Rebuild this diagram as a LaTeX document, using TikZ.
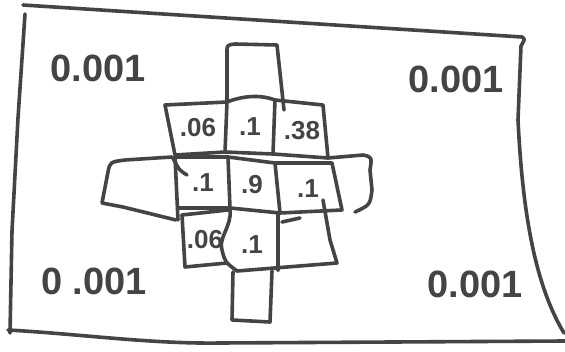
\documentclass[tikz,border=0pt]{standalone}
\usepackage{fontspec}
\setmainfont{Liberation Sans}
\definecolor{ink}{RGB}{68,68,68}
\tikzset{
  sketch/.style={draw=ink, line width=3.6pt, line cap=round, line join=round},
  big/.style={text=ink, font=\bfseries\fontsize{38}{38}\selectfont, inner sep=0pt},
  cell/.style={text=ink, font=\bfseries\fontsize{26}{26}\selectfont, inner sep=0pt}
}
\begin{document}
\begin{tikzpicture}[x=1pt, y=-1pt]
\useasboundingbox (0,0) rectangle (565,351);

\draw[sketch] (23,5) -- (522,37) .. controls (525,39) .. (521,46) -- (518,120) .. controls (522,200) and (532,280) .. (564,333);
\draw[sketch] (25,14) -- (18,118) -- (12,231) -- (10,333);
\draw[sketch] (8,330) .. controls (80,334) and (150,344) .. (220,343) -- (565,341);

\node[big] (tl) at (98,68) {0.001};
\node[big] (tr) at (456,79) {0.001};
\node[big] (bl) at (94,281) {0 .001};
\node[big] (br) at (475,284) {0.001};

\draw[sketch] (227,102) -- (227,52) .. controls (227,45) .. (235,44) -- (277,45) -- (284,110);
\draw[sketch] (165,105) -- (227,102) .. controls (245,95) and (262,95) .. (275,100) -- (323,105) -- (328,158);
\draw[sketch] (165,105) -- (175,155) -- (225,152);
\draw[sketch] (227,102) -- (225,152) -- (273,154) -- (328,158);
\draw[sketch] (275,100) -- (273,154);

\draw[sketch] (175,157) -- (228,157) -- (275,163) -- (332,163) -- (342,210) -- (280,213) -- (230,208) -- (178,208);
\draw[sketch] (175,157) -- (178,220);
\draw[sketch] (228,157) -- (230,208);
\draw[sketch] (275,163) -- (280,213);
\draw[sketch] (173,158) .. controls (179,170) .. (187,175);

\draw[sketch] (172,157) -- (125,160) .. controls (110,162) .. (108,172) -- (102,203) -- (123,207) -- (176,220);
\draw[sketch] (328,158) -- (363,155) .. controls (372,157) .. (370,170) -- (372,190) .. controls (370,205) .. (355,212);

\draw[sketch] (182,215) -- (228,210);
\draw[sketch] (182,215) -- (185,267) -- (227,263);
\draw[sketch] (230,210) .. controls (232,226) and (218,238) .. (222,250) .. controls (225,262) .. (237,271) -- (337,263) -- (330,240) -- (323,200);
\draw[sketch] (278,213) -- (278,270);
\draw[sketch] (282,222) -- (300,218);

\draw[sketch] (233,272) -- (232,320) -- (270,322) -- (272,271);

\node[cell] (tla) at (198,128) {.06};
\node[cell] (tca) at (250,127) {.1};
\node[cell] (tra) at (302,131) {.38};
\node[cell] (mla) at (203,183) {.1};
\node[cell] (mca) at (252,185) {.9};
\node[cell] (mra) at (308,189) {.1};
\node[cell] (bla) at (205,240) {.06};
\node[cell] (bca) at (252,245) {.1};

\end{tikzpicture}
\end{document}
